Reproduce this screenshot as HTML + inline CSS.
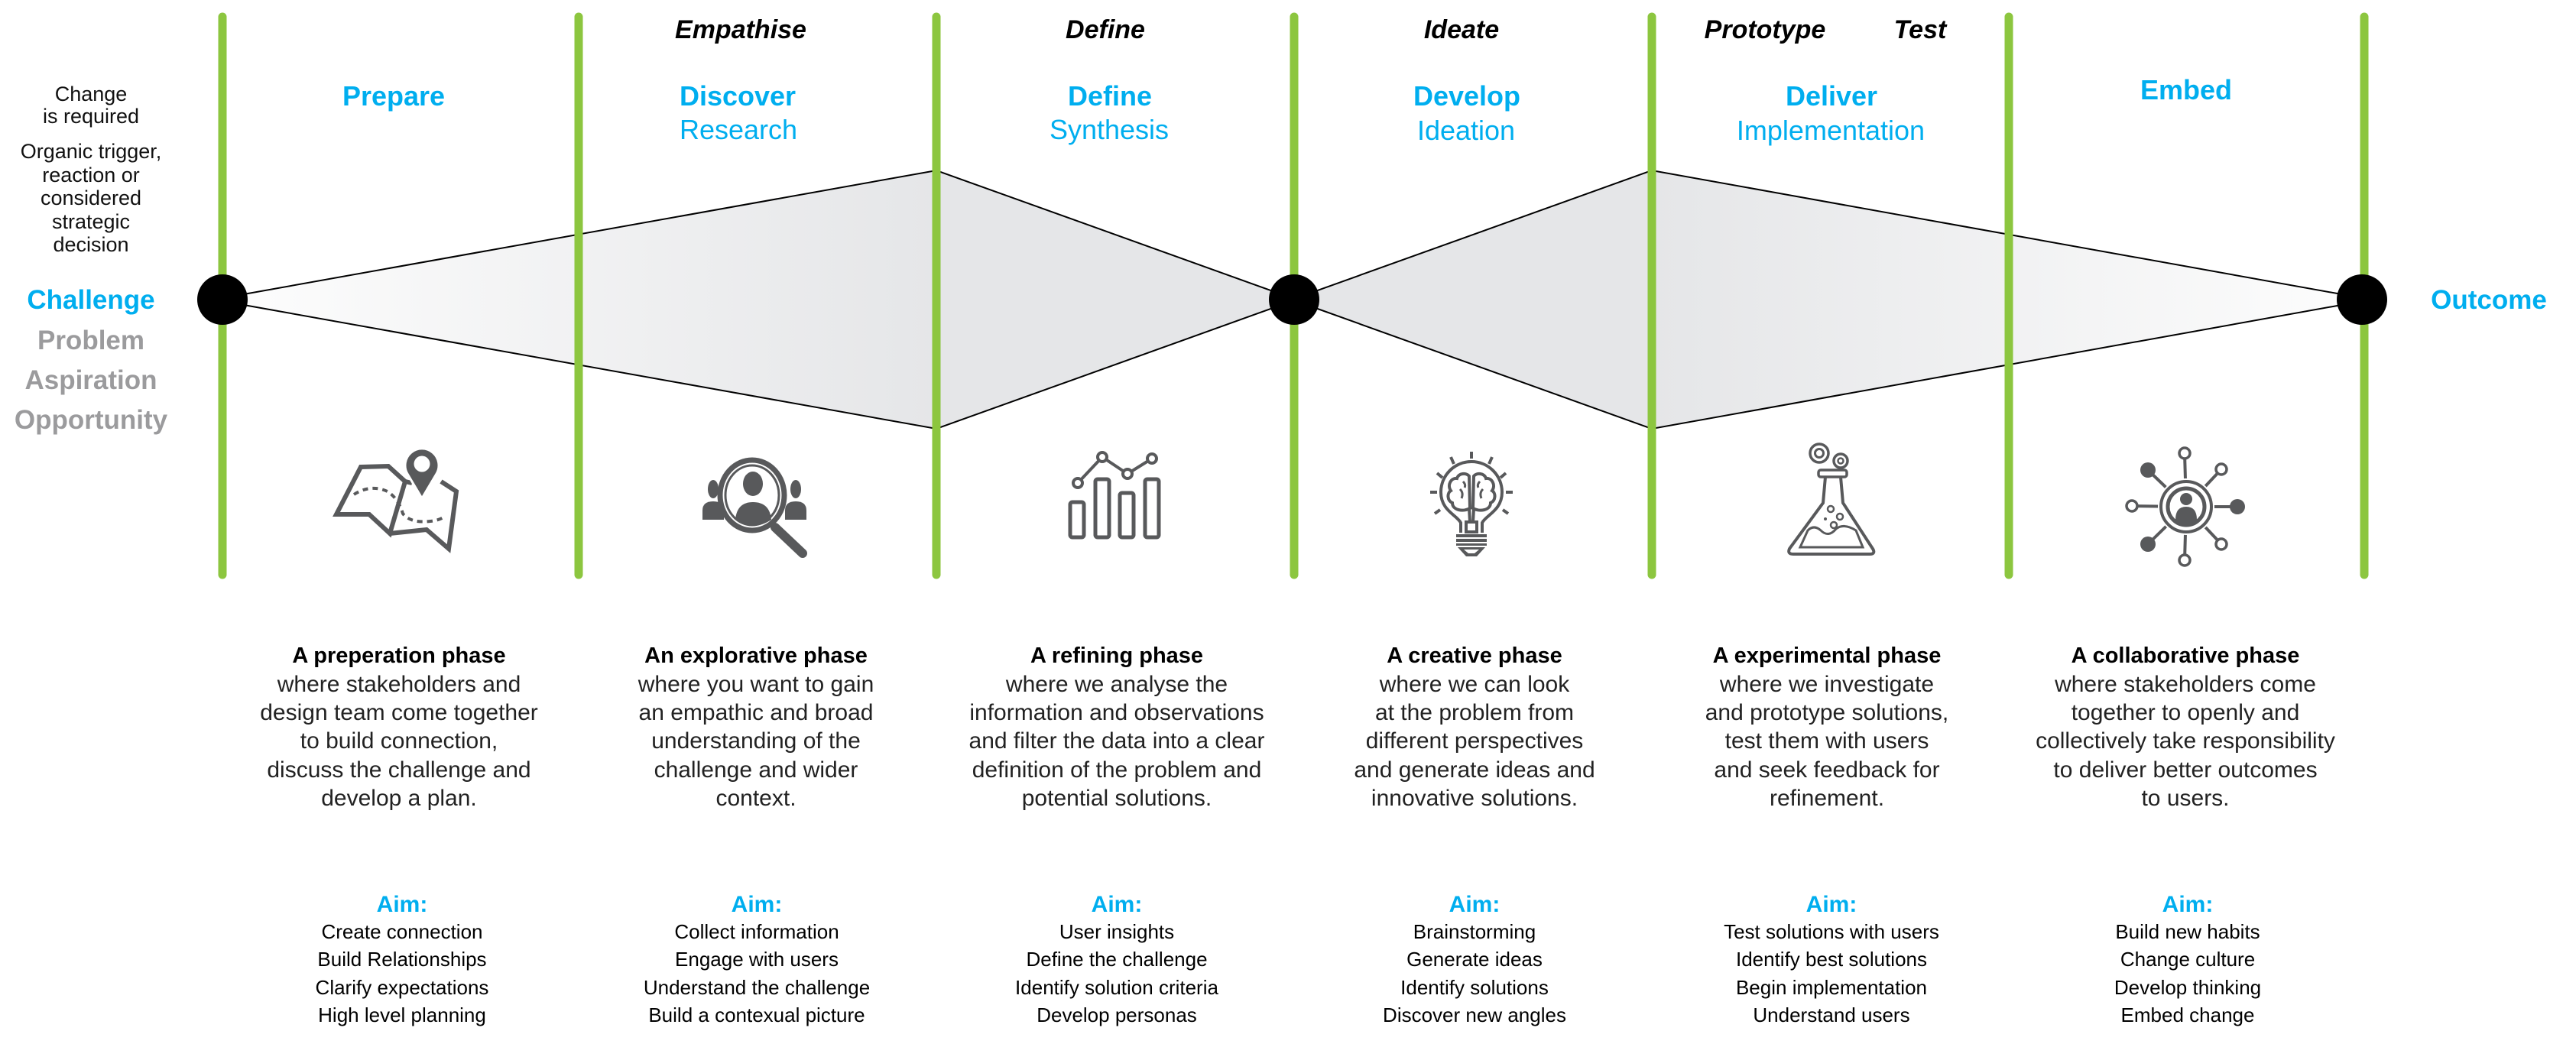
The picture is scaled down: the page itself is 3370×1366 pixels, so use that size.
<!DOCTYPE html>
<html>
<head>
<meta charset="utf-8">
<style>
html,body{margin:0;padding:0;background:#fff;}
svg{display:block;}
text{font-family:"Liberation Sans",Arial,sans-serif;}
</style>
</head>
<body>
<svg width="3370" height="1366" viewBox="0 0 3370 1366" xmlns="http://www.w3.org/2000/svg">
<defs>
<linearGradient id="gl" gradientUnits="userSpaceOnUse" x1="291" y1="0" x2="1225" y2="0">
<stop offset="0" stop-color="#fdfdfd"/>
<stop offset="1" stop-color="#e5e6e8"/>
</linearGradient>
<linearGradient id="gr" gradientUnits="userSpaceOnUse" x1="2161" y1="0" x2="3091" y2="0">
<stop offset="0" stop-color="#e5e6e8"/>
<stop offset="1" stop-color="#fdfdfd"/>
</linearGradient>
</defs>
<rect width="3370" height="1366" fill="#fff"/>

<!-- diamonds -->
<polygon points="291,390 1225,223 1693,391 1693,393 1225,561 291,394" fill="url(#gl)" stroke="#000" stroke-width="2" stroke-linejoin="miter"/>
<polygon points="1693,391 2161,223 3091,390 3091,394 2161,561 1693,393" fill="url(#gr)" stroke="#000" stroke-width="2"/>

<!-- green lines -->
<g stroke="#8cc63f" stroke-width="11" stroke-linecap="round">
<line x1="291" y1="22" x2="291" y2="752"/>
<line x1="757" y1="22" x2="757" y2="752"/>
<line x1="1225" y1="22" x2="1225" y2="752"/>
<line x1="1693" y1="22" x2="1693" y2="752"/>
<line x1="2161" y1="22" x2="2161" y2="752"/>
<line x1="2628" y1="22" x2="2628" y2="752"/>
<line x1="3093" y1="22" x2="3093" y2="752"/>
</g>

<!-- dots -->
<ellipse cx="291" cy="392" rx="33" ry="33" fill="#000"/>
<ellipse cx="1693" cy="392" rx="33" ry="33" fill="#000"/>
<ellipse cx="3090" cy="392" rx="33" ry="33" fill="#000"/>

<!-- left texts -->
<g font-size="27" fill="#111" text-anchor="middle">
<text x="119" y="132">Change</text>
<text x="119" y="161">is required</text>
<text x="119" y="207">Organic trigger,</text>
<text x="119" y="238">reaction or</text>
<text x="119" y="268">considered</text>
<text x="119" y="299">strategic</text>
<text x="119" y="329">decision</text>
</g>
<g font-size="35" font-weight="bold" text-anchor="middle">
<text x="119" y="404" fill="#00aeef">Challenge</text>
<text x="119" y="457" fill="#9b9b9d">Problem</text>
<text x="119" y="509" fill="#9b9b9d">Aspiration</text>
<text x="119" y="561" fill="#9b9b9d">Opportunity</text>
<text x="3256" y="404" fill="#00aeef">Outcome</text>
</g>

<!-- top italic labels -->
<g font-size="34" font-weight="bold" font-style="italic" fill="#000" text-anchor="middle">
<text x="969" y="50">Empathise</text>
<text x="1446" y="50">Define</text>
<text x="1912" y="50">Ideate</text>
<text x="2309" y="50">Prototype</text>
<text x="2512" y="50">Test</text>
</g>

<!-- blue headings -->
<g font-size="36" font-weight="bold" fill="#00aeef" text-anchor="middle">
<text x="515" y="138">Prepare</text>
<text x="965" y="138">Discover</text>
<text x="1452" y="138">Define</text>
<text x="1919" y="138">Develop</text>
<text x="2396" y="138">Deliver</text>
<text x="2860" y="130">Embed</text>
</g>
<g font-size="36" fill="#00aeef" text-anchor="middle">
<text x="966" y="182">Research</text>
<text x="1451" y="182">Synthesis</text>
<text x="1918" y="183">Ideation</text>
<text x="2395" y="183">Implementation</text>
</g>

<!-- ICONS -->
<!-- map -->
<g fill="none" stroke="#58595b" stroke-width="6" stroke-linejoin="miter">
<polygon points="472,611 508,610 530,630 510,698 483,673 440,673"/>
<polyline points="530,630 539,632"/>
<polyline points="577,630 597,643 587,718 558,693 510,698"/>
<path d="M463,647 Q485,633 507,643 Q521,652 527,672 Q537,685 563,682 Q573,681 580,677" stroke-width="4" stroke-dasharray="7 6"/>
</g>
<path d="M552,652 L533,620 A22,22 0 1 1 571,620 Z" fill="#58595b" stroke="#fff" stroke-width="3"/>
<circle cx="552" cy="607" r="10.5" fill="#fff"/>

<!-- search people -->
<g fill="#58595b">
<ellipse cx="933" cy="640" rx="7" ry="12"/>
<path d="M919,680 L919,668 Q919,656 933,656 Q947,656 947,668 L947,680 Z"/>
<ellipse cx="1041" cy="640" rx="7" ry="12"/>
<path d="M1027,680 L1027,668 Q1027,656 1041,656 Q1055,656 1055,668 L1055,680 Z"/>
</g>
<ellipse cx="984" cy="648" rx="45" ry="49" fill="#fff"/>
<line x1="1014" y1="690" x2="1050" y2="724" stroke="#58595b" stroke-width="12" stroke-linecap="round"/>
<ellipse cx="984" cy="648" rx="42" ry="46" fill="none" stroke="#58595b" stroke-width="7"/>
<ellipse cx="984" cy="648" rx="35" ry="39" fill="none" stroke="#58595b" stroke-width="3"/>
<ellipse cx="985" cy="633" rx="13" ry="16" fill="#58595b"/>
<path d="M962,680 Q964,657 985,657 Q1007,657 1009,680 Q997,688 985,688 Q973,688 962,680 Z" fill="#58595b"/>

<!-- chart -->
<g fill="none" stroke="#58595b" stroke-width="5">
<rect x="1400" y="657" width="18" height="46" rx="3"/>
<rect x="1433" y="627" width="18" height="76" rx="3"/>
<rect x="1465" y="645" width="18" height="58" rx="3"/>
<rect x="1498" y="627" width="18" height="76" rx="3"/>
<polyline points="1410,632 1442,598 1475,620 1507,600" stroke-width="4"/>
</g>
<g fill="#fff" stroke="#58595b" stroke-width="4">
<circle cx="1410" cy="632" r="6"/>
<circle cx="1442" cy="598" r="6"/>
<circle cx="1475" cy="620" r="6"/>
<circle cx="1507" cy="600" r="6"/>
</g>

<!-- bulb -->
<g stroke="#58595b" stroke-width="4" fill="none" stroke-linecap="butt">
<line x1="1925" y1="591" x2="1925" y2="600"/>
<line x1="1898" y1="598" x2="1902" y2="607"/>
<line x1="1952" y1="598" x2="1948" y2="607"/>
<line x1="1880" y1="619" x2="1887" y2="625"/>
<line x1="1970" y1="619" x2="1963" y2="625"/>
<line x1="1871" y1="644" x2="1880" y2="644"/>
<line x1="1979" y1="644" x2="1970" y2="644"/>
<line x1="1877" y1="672" x2="1884" y2="667"/>
<line x1="1973" y1="672" x2="1966" y2="667"/>
<path d="M1911,697 L1911,684 C1906,674 1885,668 1885,644 A40,40 0 0 1 1965,644 C1965,668 1944,674 1939,684 L1939,697"/>
<rect x="1918" y="683" width="14" height="13"/>
<path d="M1923,665 C1915,670 1900,668 1900,658 C1893,655 1893,645 1898,642 C1893,635 1898,625 1906,626 C1908,619 1918,618 1922,623 Z"/>
<path d="M1927,665 C1935,670 1950,668 1950,658 C1957,655 1957,645 1952,642 C1957,635 1952,625 1944,626 C1942,619 1932,618 1928,623 Z"/>
<path d="M1910,640 Q1915,645 1912,652 M1940,640 Q1935,645 1938,652 M1914,630 Q1918,634 1916,638 M1936,630 Q1932,634 1934,638" stroke-width="3"/>
<line x1="1922" y1="665" x2="1923" y2="683"/>
<line x1="1928" y1="665" x2="1927" y2="683"/>
</g>
<g fill="#58595b">
<rect x="1905" y="699" width="40" height="4"/>
<rect x="1905" y="705" width="40" height="4"/>
<rect x="1905" y="711" width="40" height="3"/>
<path d="M1907,716 L1943,716 L1932,728 L1918,728 Z"/>
</g>
<path d="M1915,719 L1935,719 L1929,724 L1921,724 Z" fill="#fff"/>

<!-- flask -->
<g fill="none" stroke="#58595b" stroke-width="3.5">
<circle cx="2380" cy="593" r="12"/>
<circle cx="2380" cy="593" r="5.5" stroke-width="3"/>
<circle cx="2408" cy="603" r="9"/>
<circle cx="2408" cy="603" r="3.5" stroke-width="2.5"/>
<rect x="2379" y="615" width="37" height="9" rx="3"/>
<path d="M2388,624 L2385,658 L2341,718 Q2338,725 2346,725 L2446,725 Q2454,725 2450,718 L2411,658 L2408,624" stroke-width="4"/>
<path d="M2365,694 Q2373,686 2382,694 Q2392,704 2402,692 Q2412,684 2428,694 L2437,716 L2355,716 Z" stroke-width="3"/>
<circle cx="2395" cy="666" r="4" stroke-width="2.5"/>
<circle cx="2407" cy="676" r="4" stroke-width="2.5"/>
<circle cx="2399" cy="687" r="4" stroke-width="2.5"/>
</g>
<circle cx="2388" cy="679" r="2" fill="#58595b"/>

<!-- network -->
<g stroke="#58595b" stroke-width="4">
<line x1="2860" y1="663" x2="2858" y2="593"/>
<line x1="2860" y1="663" x2="2858" y2="733"/>
<line x1="2860" y1="663" x2="2789" y2="662"/>
<line x1="2860" y1="663" x2="2927" y2="663"/>
<line x1="2860" y1="663" x2="2810" y2="615"/>
<line x1="2860" y1="663" x2="2906" y2="614"/>
<line x1="2860" y1="663" x2="2810" y2="712"/>
<line x1="2860" y1="663" x2="2906" y2="712"/>
</g>
<circle cx="2860" cy="663" r="37" fill="#fff"/>
<circle cx="2860" cy="663" r="33" fill="#fff" stroke="#58595b" stroke-width="4"/>
<circle cx="2860" cy="663" r="24" fill="#fff" stroke="#58595b" stroke-width="5"/>
<circle cx="2860" cy="653" r="8" fill="#58595b"/>
<path d="M2846,680 Q2846,663 2860,663 Q2874,663 2874,680 Q2867,686 2860,686 Q2853,686 2846,680 Z" fill="#58595b"/>
<g fill="#fff" stroke="#58595b" stroke-width="3.5">
<circle cx="2858" cy="593" r="7"/>
<circle cx="2858" cy="733" r="7"/>
<circle cx="2789" cy="662" r="7"/>
<circle cx="2906" cy="614" r="7"/>
<circle cx="2906" cy="712" r="7"/>
</g>
<g fill="#58595b">
<circle cx="2927" cy="663" r="10"/>
<circle cx="2810" cy="615" r="10"/>
<circle cx="2810" cy="712" r="10"/>
</g>

<!-- paragraphs -->
<g text-anchor="middle" fill="#000">
<g font-size="29" font-weight="bold">
<text x="522" y="867">A preperation phase</text>
<text x="989" y="867">An explorative phase</text>
<text x="1461" y="867">A refining phase</text>
<text x="1929" y="867">A creative phase</text>
<text x="2390" y="867">A experimental phase</text>
<text x="2859" y="867">A collaborative phase</text>
</g>
<g font-size="30" fill="#222">
<text x="522" y="905">where stakeholders and</text>
<text x="522" y="942">design team come together</text>
<text x="522" y="979">to build connection,</text>
<text x="522" y="1017">discuss the challenge and</text>
<text x="522" y="1054">develop a plan.</text>

<text x="989" y="905">where you want to gain</text>
<text x="989" y="942">an empathic and broad</text>
<text x="989" y="979">understanding of the</text>
<text x="989" y="1017">challenge and wider</text>
<text x="989" y="1054">context.</text>

<text x="1461" y="905">where we analyse the</text>
<text x="1461" y="942">information and observations</text>
<text x="1461" y="979">and filter the data into a clear</text>
<text x="1461" y="1017">definition of the problem and</text>
<text x="1461" y="1054">potential solutions.</text>

<text x="1929" y="905">where we can look</text>
<text x="1929" y="942">at the problem from</text>
<text x="1929" y="979">different perspectives</text>
<text x="1929" y="1017">and generate ideas and</text>
<text x="1929" y="1054">innovative solutions.</text>

<text x="2390" y="905">where we investigate</text>
<text x="2390" y="942">and prototype solutions,</text>
<text x="2390" y="979">test them with users</text>
<text x="2390" y="1017">and seek feedback for</text>
<text x="2390" y="1054">refinement.</text>

<text x="2859" y="905">where stakeholders come</text>
<text x="2859" y="942">together to openly and</text>
<text x="2859" y="979">collectively take responsibility</text>
<text x="2859" y="1017">to deliver better outcomes</text>
<text x="2859" y="1054">to users.</text>
</g>
</g>

<!-- aims -->
<g text-anchor="middle">
<g font-size="30" font-weight="bold" fill="#00aeef">
<text x="526" y="1193">Aim:</text>
<text x="990" y="1193">Aim:</text>
<text x="1461" y="1193">Aim:</text>
<text x="1929" y="1193">Aim:</text>
<text x="2396" y="1193">Aim:</text>
<text x="2862" y="1193">Aim:</text>
</g>
<g font-size="26" fill="#000">
<text x="526" y="1228">Create connection</text>
<text x="526" y="1264">Build Relationships</text>
<text x="526" y="1301">Clarify expectations</text>
<text x="526" y="1337">High level planning</text>

<text x="990" y="1228">Collect information</text>
<text x="990" y="1264">Engage with users</text>
<text x="990" y="1301">Understand the challenge</text>
<text x="990" y="1337">Build a contexual picture</text>

<text x="1461" y="1228">User insights</text>
<text x="1461" y="1264">Define the challenge</text>
<text x="1461" y="1301">Identify solution criteria</text>
<text x="1461" y="1337">Develop personas</text>

<text x="1929" y="1228">Brainstorming</text>
<text x="1929" y="1264">Generate ideas</text>
<text x="1929" y="1301">Identify solutions</text>
<text x="1929" y="1337">Discover new angles</text>

<text x="2396" y="1228">Test solutions with users</text>
<text x="2396" y="1264">Identify best solutions</text>
<text x="2396" y="1301">Begin implementation</text>
<text x="2396" y="1337">Understand users</text>

<text x="2862" y="1228">Build new habits</text>
<text x="2862" y="1264">Change culture</text>
<text x="2862" y="1301">Develop thinking</text>
<text x="2862" y="1337">Embed change</text>
</g>
</g>
</svg>
</body>
</html>
